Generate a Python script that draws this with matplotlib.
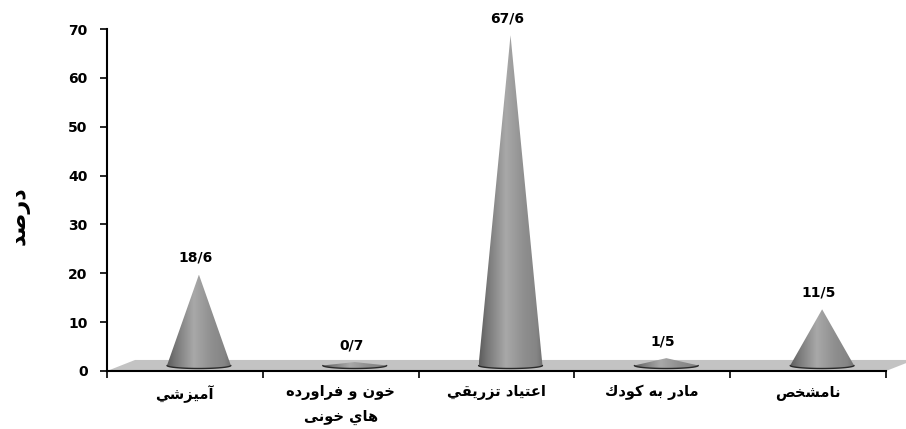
import numpy as np
import matplotlib
matplotlib.use("Agg")
import matplotlib.pyplot as plt
from matplotlib.patches import Polygon

# ---------------- data ----------------
categories = ["آميزشي", "خون و فراورده\nهاي خونی", "اعتياد تزريقي", "مادر به كودك", "نامشخص"]
values = [18.6, 0.7, 67.6, 1.5, 11.5]
value_labels = ["18/6", "0/7", "67/6", "1/5", "11/5"]
y_ticks = [0, 10, 20, 30, 40, 50, 60, 70]
y_label = "درصد"

# ---------------- simple Arabic shaping (presentation forms) ----------------
FORMS = {
    'ا': ('\uFE8D', '\uFE8E', None, None),
    'آ': ('\uFE81', '\uFE82', None, None),
    'د': ('\uFEA9', '\uFEAA', None, None),
    'ر': ('\uFEAD', '\uFEAE', None, None),
    'ز': ('\uFEAF', '\uFEB0', None, None),
    'و': ('\uFEED', '\uFEEE', None, None),
    'ب': ('\uFE8F', '\uFE90', '\uFE91', '\uFE92'),
    'ت': ('\uFE95', '\uFE96', '\uFE97', '\uFE98'),
    'خ': ('\uFEA5', '\uFEA6', '\uFEA7', '\uFEA8'),
    'ش': ('\uFEB5', '\uFEB6', '\uFEB7', '\uFEB8'),
    'ص': ('\uFEB9', '\uFEBA', '\uFEBB', '\uFEBC'),
    'ع': ('\uFEC9', '\uFECA', '\uFECB', '\uFECC'),
    'ف': ('\uFED1', '\uFED2', '\uFED3', '\uFED4'),
    'ق': ('\uFED5', '\uFED6', '\uFED7', '\uFED8'),
    'ك': ('\uFED9', '\uFEDA', '\uFEDB', '\uFEDC'),
    'م': ('\uFEE1', '\uFEE2', '\uFEE3', '\uFEE4'),
    'ن': ('\uFEE5', '\uFEE6', '\uFEE7', '\uFEE8'),
    'ه': ('\uFEE9', '\uFEEA', '\uFEEB', '\uFEEC'),
    'ي': ('\uFEF1', '\uFEF2', '\uFEF3', '\uFEF4'),
    'ی': ('\uFBFC', '\uFBFD', '\uFBFE', '\uFBFF'),
}
DUAL = {c for c, f in FORMS.items() if f[2] is not None}


def shape_line(s):
    out = []
    for i, c in enumerate(s):
        if c not in FORMS:
            out.append(c)
            continue
        prev = s[i - 1] if i > 0 else ''
        nxt = s[i + 1] if i + 1 < len(s) else ''
        jp = prev in DUAL
        jn = (c in DUAL) and (nxt in FORMS)
        iso, fin, ini, med = FORMS[c]
        if jp and jn:
            out.append(med)
        elif jp:
            out.append(fin)
        elif jn:
            out.append(ini)
        else:
            out.append(iso)
    return ''.join(out)[::-1]


def shape(s):
    return '\n'.join(shape_line(l) for l in s.split('\n'))


plt.rcParams['font.family'] = ['DejaVu Sans']

# ---------------- figure ----------------
W, H = 906, 429
fig = plt.figure(figsize=(W / 100, H / 100), dpi=100)
ax = fig.add_axes([107 / W, 1 - 371 / H, (886 - 107) / W, (371 - 29) / H])

n = len(categories)
xs = np.arange(n)
x0, x1 = -0.5, n - 0.5
y0, y1 = 0, 70

# 3D depth offsets (in data units)
ddx, ddy = 0.18, 2.26
floor_color = '#c3c3c3'
floor = Polygon([(x0, 0), (x1, 0), (x1 + ddx, ddy), (x0 + ddx, ddy)],
                closed=True, facecolor=floor_color, edgecolor='none',
                zorder=1, clip_on=False)
ax.add_patch(floor)

# cone shading
grad_t = np.linspace(0, 1, 256)
shade = np.interp(grad_t, [0.0, 0.12, 0.42, 0.7, 0.9, 1.0],
                  [0.36, 0.46, 0.66, 0.56, 0.52, 0.44])
grad_img = np.tile(shade, (2, 1))

cone_w = 0.205
ell_h = 0.62
base_y = ddy / 2
for i, (xc, v) in enumerate(zip(xs, values)):
    cx = xc + ddx / 2
    apex = v + base_y
    th = np.linspace(np.pi, 2 * np.pi, 60)
    ex = cx + cone_w * np.cos(th)
    ey = base_y + ell_h * np.sin(th)
    verts = [(cx - cone_w, base_y), (cx, apex), (cx + cone_w, base_y)] + \
            list(zip(ex[::-1], ey[::-1]))
    poly = Polygon(verts, closed=True, facecolor='none', edgecolor='none',
                   transform=ax.transData)
    ax.add_patch(poly)
    im = ax.imshow(grad_img, cmap='gray', vmin=0, vmax=1, aspect='auto',
                   extent=(cx - cone_w, cx + cone_w, base_y - ell_h, max(apex, base_y + ell_h)),
                   interpolation='bilinear', zorder=3)
    im.set_clip_path(poly)
    ax.plot(ex, ey, color='#2a2a2a', lw=1.0, zorder=4, solid_capstyle='round')
    ax.text(xc + 0.07, v + 4.6, value_labels[i], ha='center', va='center',
            fontsize=10, fontweight='bold', color='black', zorder=5)

ax.set_xlim(x0, x1)
ax.set_ylim(y0, y1)

# spines / ticks
for s in ['top', 'right']:
    ax.spines[s].set_visible(False)
for s in ['left', 'bottom']:
    ax.spines[s].set_linewidth(1.5)
    ax.spines[s].set_color('black')
    ax.spines[s].set_zorder(6)

ax.set_yticks(y_ticks)
ax.set_yticklabels([str(t) for t in y_ticks], fontsize=10, fontweight='bold')
ax.tick_params(axis='y', direction='out', length=5, width=1.2, pad=9)

ax.set_xticks(np.arange(n + 1) - 0.5)
ax.set_xticklabels([])
ax.tick_params(axis='x', which='major', direction='out', length=5, width=1.2)
ax.set_xticks(xs, minor=True)
ax.set_xticklabels([shape(c) for c in categories], minor=True,
                   fontsize=10.5, fontweight='bold', linespacing=1.75)
ax.tick_params(axis='x', which='minor', length=0, pad=10)

fig.text(20 / W, 1 - 216 / H, shape(y_label), rotation=90, ha='center', va='center',
         fontsize=16, fontweight='bold')

fig.savefig('out.png', dpi=100)
